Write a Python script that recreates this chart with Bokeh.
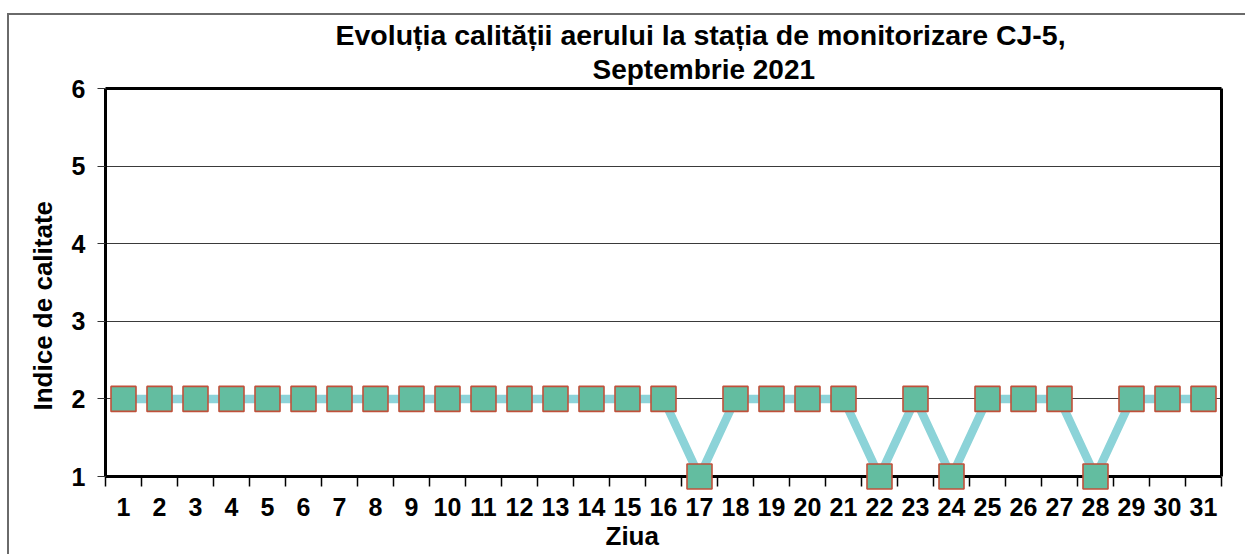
from bokeh.plotting import figure
from bokeh.models import Range1d, FixedTicker, Title, Grid, LinearAxis
from bokeh.embed import file_html
from bokeh.resources import INLINE

# ---- data ----
days = [1, 2, 3, 4, 5, 6, 7, 8, 9, 10, 11, 12, 13, 14, 15, 16,
        17, 18, 19, 20, 21, 22, 23, 24, 25, 26, 27, 28, 29, 30, 31]
quality_index = [2, 2, 2, 2, 2, 2, 2, 2, 2, 2, 2, 2, 2, 2, 2, 2,
                 1, 2, 2, 2, 2, 1, 2, 1, 2, 2, 2, 1, 2, 2, 2]
y_ticks = [1, 2, 3, 4, 5, 6]
title_line1 = "Evoluția calității aerului la stația de monitorizare CJ-5,"
title_line2 = "Septembrie 2021"
x_label = "Ziua"
y_label = "Indice de calitate"

FONT = "Liberation Sans"
Y_MIN, Y_MAX = y_ticks[0], y_ticks[-1]

p = figure(width=1245, height=554, title=None,
           x_range=Range1d(days[0] - 0.5, days[-1] + 0.5),
           y_range=Range1d(Y_MIN - 0.18, Y_MAX),
           output_backend="svg", toolbar_location=None,
           min_border_left=105, min_border_right=24,
           min_border_top=88, min_border_bottom=64)
p.background_fill_color = "white"
p.border_fill_color = None
p.outline_line_color = None
p.styles = {
    "background": ("linear-gradient(#6a6a6a,#6a6a6a) 8px 13px / 1241px 2px no-repeat, "
                   "linear-gradient(#6a6a6a,#6a6a6a) 7px 13px / 2px 600px no-repeat, "
                   "#ffffff")
}

# horizontal grid lines
p.xgrid.visible = False
p.ygrid.ticker = FixedTicker(ticks=y_ticks[1:], minor_ticks=[])
p.ygrid.grid_line_color = "#3a3a3a"
p.ygrid.grid_line_width = 1
# baseline (x axis rule) at the lowest index value
base = Grid(dimension=1, ticker=FixedTicker(ticks=[Y_MIN], minor_ticks=[]),
            grid_line_color="black", grid_line_width=3)
p.add_layout(base)

# line + markers
p.line(days, quality_index, line_color="#8cd3d8", line_width=8.5)
p.scatter(days, quality_index, marker="square", size=25,
          fill_color="#63bda0", line_color="#c0503a", line_width=1.6)

# x axis: labels at day centers, tick marks at day boundaries
minor = [d - 0.5 for d in days] + [days[-1] + 0.5]
p.xaxis.ticker = FixedTicker(ticks=days, minor_ticks=minor)
p.xaxis.axis_line_color = None
p.xaxis.major_tick_out = 0
p.xaxis.major_tick_in = 0
p.xaxis.minor_tick_in = 14
p.xaxis.minor_tick_out = -4
p.xaxis.minor_tick_line_color = "black"
p.xaxis.minor_tick_line_width = 1.5
p.xaxis.major_label_standoff = 7
p.xaxis.major_label_text_font = FONT
p.xaxis.major_label_text_font_style = "bold"
p.xaxis.major_label_text_font_size = "25px"
p.xaxis.major_label_text_color = "black"

# y axis
p.yaxis.ticker = FixedTicker(ticks=y_ticks, minor_ticks=[])
p.yaxis.bounds = (Y_MIN, Y_MAX)
p.yaxis.major_tick_out = 8
p.yaxis.major_tick_in = 0
p.yaxis.major_tick_line_color = "#333333"
p.yaxis.axis_line_color = "black"
p.yaxis.axis_line_width = 3
p.yaxis.major_label_standoff = 12
p.yaxis.major_label_text_font = FONT
p.yaxis.major_label_text_font_style = "bold"
p.yaxis.major_label_text_font_size = "25px"
p.yaxis.major_label_text_color = "black"

# right and top frame lines
right_ax = LinearAxis(ticker=FixedTicker(ticks=[], minor_ticks=[]), bounds=(Y_MIN, Y_MAX),
                      axis_line_color="black", axis_line_width=3,
                      major_tick_out=0, major_tick_in=0, minor_tick_out=0, minor_tick_in=0,
                      major_label_text_font_size="0px")
p.add_layout(right_ax, "right")
top_ax = LinearAxis(ticker=FixedTicker(ticks=[], minor_ticks=[]),
                    axis_line_color="black", axis_line_width=3,
                    major_tick_out=0, major_tick_in=0, minor_tick_out=0, minor_tick_in=0,
                    major_label_text_font_size="0px")
p.add_layout(top_ax, "above")

# titles
t2 = Title(text=title_line2, align="left", offset=487, standoff=8,
           text_font=FONT, text_font_size="28px", text_font_style="bold",
           text_color="black")
p.add_layout(t2, "above")
t1 = Title(text=title_line1, align="left", offset=230, standoff=-6,
           text_font=FONT, text_font_size="28.5px", text_font_style="bold",
           text_color="black")
p.add_layout(t1, "above")

xl = Title(text=x_label, align="left", offset=500, standoff=0,
           text_font=FONT, text_font_size="26px", text_font_style="bold",
           text_color="black")
p.add_layout(xl, "below")
yl = Title(text=y_label, align="left", offset=80, standoff=22,
           text_font=FONT, text_font_size="26px", text_font_style="bold",
           text_color="black")
p.add_layout(yl, "left")

open("out.html", "w").write(file_html(p, INLINE))
